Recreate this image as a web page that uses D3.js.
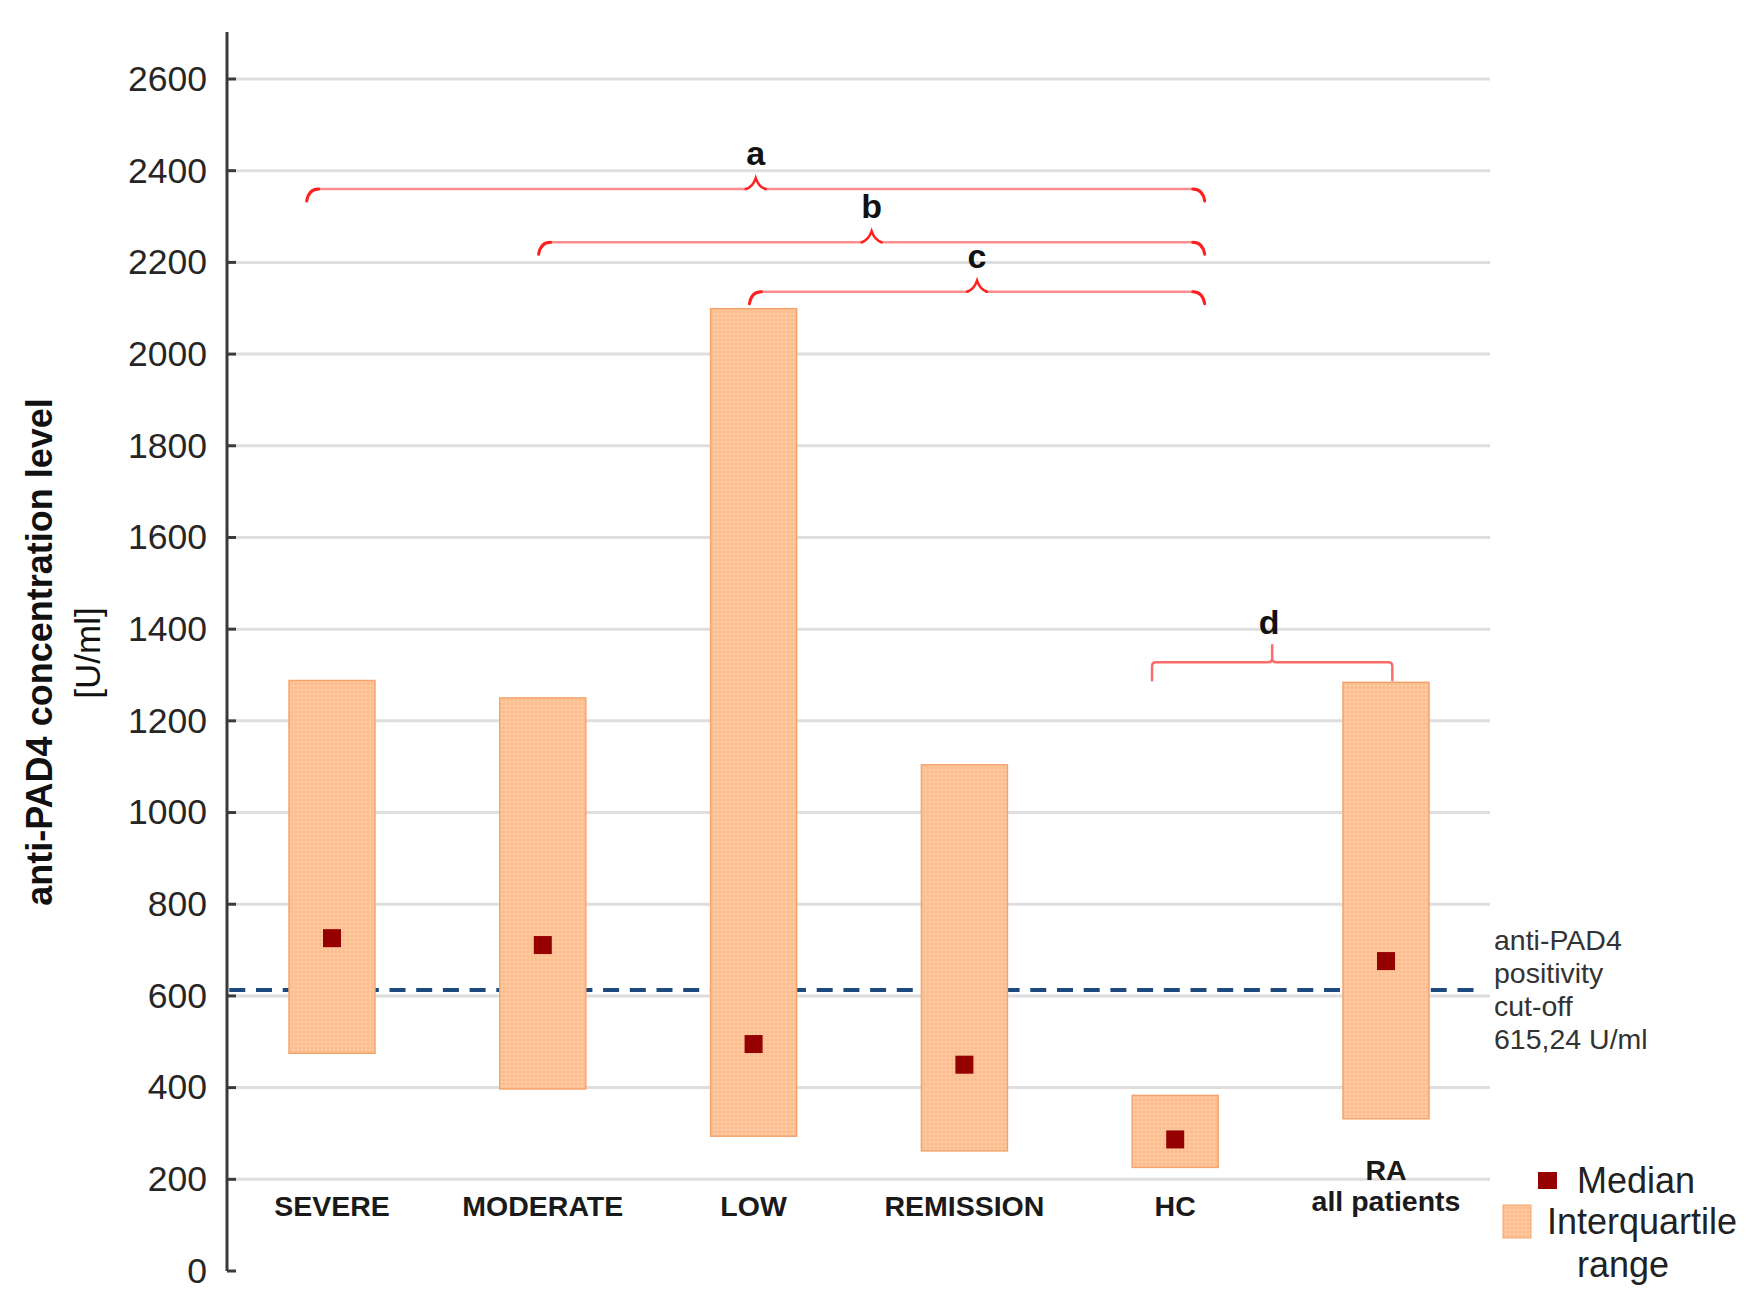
<!DOCTYPE html>
<html>
<head>
<meta charset="utf-8">
<script src="https://cdn.jsdelivr.net/npm/d3@7"></script>
<style>
  html, body { margin: 0; padding: 0; background: #fff; }
  svg { display: block; font-family: "Liberation Sans", Arial, sans-serif; }
</style>
</head>
<body>
<svg id="chart" width="1761" height="1312"></svg>
<script>
// ---- data ----
const categories = ["SEVERE", "MODERATE", "LOW", "REMISSION", "HC", "RA all patients"];
const categoryLines = [["SEVERE"], ["MODERATE"], ["LOW"], ["REMISSION"], ["HC"], ["RA", "all patients"]];
const q1Values = [475, 397, 294, 262, 226, 332];
const q3Values = [1288, 1250, 2099, 1104, 383, 1284];
const medianValues = [726, 711, 495, 450, 287, 676];
const yTicks = [0, 200, 400, 600, 800, 1000, 1200, 1400, 1600, 1800, 2000, 2200, 2400, 2600];
const cutoffValue = 615.24;
const cutoffLines = ["anti-PAD4", "positivity", "cut-off", "615,24 U/ml"];
// bracket ends expressed as (fractional) category index, level as value
const bracketLabels = ["a", "b", "c", "d"];
const bracketStart = [-0.12, 0.98, 1.98, 3.89];
const bracketEnd = [4.14, 4.14, 4.14, 5.03];
const bracketLevel = [2360, 2244, 2136, 1328];
const bracketStyle = ["brace", "brace", "brace", "square"];

// ---- setup ----
const svg = d3.select("#chart");
const axisX = 227, gridEnd = 1490;

const y = d3.scaleLinear().domain([0, 2600]).range([1271, 79]);
const x = d3.scalePoint().domain(categories).range([332, 1386]);
const xi = d3.scaleLinear().domain([0, categories.length - 1]).range([332, 1386]);

const defs = svg.append("defs");
const pat = defs.append("pattern").attr("id", "dots").attr("patternUnits", "userSpaceOnUse")
  .attr("width", 4).attr("height", 4);
pat.append("rect").attr("width", 4).attr("height", 4).attr("fill", "#fbbf92");
pat.append("rect").attr("x", 1).attr("y", 1).attr("width", 1.6).attr("height", 1.6).attr("fill", "#fed6b6");

// gridlines
svg.append("g").selectAll("line").data(yTicks.filter(d => d > 0)).join("line")
  .attr("x1", axisX + 9).attr("x2", gridEnd)
  .attr("y1", d => y(d)).attr("y2", d => y(d))
  .attr("stroke", "#dedede").attr("stroke-width", 3);

// y axis
const yAxis = d3.axisLeft(y).tickValues(yTicks).tickFormat(d3.format("d")).tickSize(0).tickPadding(20);
const gAxis = svg.append("g").attr("transform", `translate(${axisX},0)`).call(yAxis);
gAxis.select(".domain").remove();
gAxis.selectAll("text").attr("font-size", 35.5).attr("fill", "#262626")
  .attr("font-family", "'Liberation Sans', Arial, sans-serif");
svg.append("line").attr("x1", axisX).attr("x2", axisX).attr("y1", 32).attr("y2", y(0))
  .attr("stroke", "#3a3a3a").attr("stroke-width", 3);
svg.append("g").selectAll("line").data(yTicks).join("line")
  .attr("x1", axisX).attr("x2", axisX + 9)
  .attr("y1", d => y(d)).attr("y2", d => y(d))
  .attr("stroke", "#3a3a3a").attr("stroke-width", 3);

// cutoff dashed line
svg.append("line").attr("x1", 229.3).attr("x2", 1482)
  .attr("y1", y(cutoffValue) + 1).attr("y2", y(cutoffValue) + 1)
  .attr("stroke", "#1d4a7e").attr("stroke-width", 4).attr("stroke-dasharray", "16,10.7");

// IQR bars
const barW = 86;
svg.append("g").selectAll("rect").data(categories).join("rect")
  .attr("x", d => x(d) - barW / 2)
  .attr("width", barW)
  .attr("y", (d, i) => y(q3Values[i]))
  .attr("height", (d, i) => y(q1Values[i]) - y(q3Values[i]))
  .attr("fill", "url(#dots)")
  .attr("stroke", "#f6a46c").attr("stroke-width", 1.5);

// medians
const mS = 18;
svg.append("g").selectAll("rect").data(categories).join("rect")
  .attr("x", d => x(d) - mS / 2)
  .attr("y", (d, i) => y(medianValues[i]) - mS / 2)
  .attr("width", mS).attr("height", mS)
  .attr("fill", "#950000");

// category labels
const catG = svg.append("g");
categories.forEach((c, i) => {
  const lines = categoryLines[i];
  lines.forEach((t, j) => {
    const base = lines.length > 1 ? 1211 - 31 * (lines.length - 1 - j) : 1216;
    catG.append("text").attr("x", x(c)).attr("y", base)
      .attr("text-anchor", "middle").attr("font-weight", "bold").attr("font-size", 28.5)
      .attr("fill", "#1a1a1a").text(t);
  });
});

// brackets
const bG = svg.append("g").attr("fill", "none").attr("stroke-linecap", "round");
bracketLabels.forEach((lab, i) => {
  const x1 = xi(bracketStart[i]), x2 = xi(bracketEnd[i]), yy = y(bracketLevel[i]);
  const mid = (x1 + x2) / 2;
  if (bracketStyle[i] === "brace") {
    const h = 12, p = 11;
    bG.append("path")
      .attr("d", `M${x1 + 11},${yy} L${mid - 9},${yy} M${mid + 9},${yy} L${x2 - 11},${yy}`)
      .attr("stroke", "#ff8f8f").attr("stroke-width", 2.5);
    bG.append("path")
      .attr("d", `M${x1},${yy + h} Q${x1 + 2},${yy} ${x1 + 12},${yy}`)
      .attr("stroke", "#ff1f1f").attr("stroke-width", 3);
    bG.append("path")
      .attr("d", `M${x2},${yy + h} Q${x2 - 2},${yy} ${x2 - 12},${yy}`)
      .attr("stroke", "#ff1f1f").attr("stroke-width", 3);
    bG.append("path")
      .attr("d", `M${mid - 10},${yy} Q${mid - 3},${yy - 2} ${mid},${yy - p} Q${mid + 3},${yy - 2} ${mid + 10},${yy}`)
      .attr("stroke", "#ff1f1f").attr("stroke-width", 2.5);
    svg.append("text").attr("x", mid).attr("y", yy - 24)
      .attr("text-anchor", "middle").attr("font-weight", "bold").attr("font-size", 34)
      .attr("fill", "#111").text(lab);
  } else {
    const h = 18, p = 17;
    bG.append("path")
      .attr("d", `M${x1},${yy + h} L${x1},${yy + 4} Q${x1},${yy} ${x1 + 4},${yy} L${mid - 4},${yy} Q${mid},${yy} ${mid},${yy - 4} L${mid},${yy - p} M${mid},${yy - 4} Q${mid},${yy} ${mid + 4},${yy} L${x2 - 4},${yy} Q${x2},${yy} ${x2},${yy + 4} L${x2},${yy + h}`)
      .attr("stroke", "#ff6b6b").attr("stroke-width", 2.5);
    svg.append("text").attr("x", mid - 3).attr("y", yy - 28)
      .attr("text-anchor", "middle").attr("font-weight", "bold").attr("font-size", 34)
      .attr("fill", "#111").text(lab);
  }
});

// cutoff annotation
svg.append("g").selectAll("text").data(cutoffLines).join("text")
  .attr("x", 1494).attr("y", (d, i) => 950 + i * 33)
  .attr("font-size", 28.5).attr("fill", "#333").text(d => d);

// y title
svg.append("text")
  .attr("transform", `translate(52,652) rotate(-90)`)
  .attr("text-anchor", "middle").attr("font-weight", "bold").attr("font-size", 36)
  .attr("fill", "#111").text("anti-PAD4 concentration level");
svg.append("text")
  .attr("transform", `translate(100,653) rotate(-90)`)
  .attr("text-anchor", "middle").attr("font-size", 35)
  .attr("fill", "#111").text("[U/ml]");

// legend
const lg = svg.append("g");
lg.append("rect").attr("x", 1538).attr("y", 1172).attr("width", 19).attr("height", 17).attr("fill", "#950000");
lg.append("text").attr("x", 1577).attr("y", 1193).attr("font-size", 36).attr("fill", "#222").text("Median");
lg.append("rect").attr("x", 1503).attr("y", 1205).attr("width", 28).attr("height", 33)
  .attr("fill", "url(#dots)").attr("stroke", "#f6a46c").attr("stroke-width", 1);
lg.append("text").attr("x", 1547).attr("y", 1234).attr("font-size", 36).attr("fill", "#222").text("Interquartile");
lg.append("text").attr("x", 1577).attr("y", 1277).attr("font-size", 36).attr("fill", "#222").text("range");
</script>
</body>
</html>
